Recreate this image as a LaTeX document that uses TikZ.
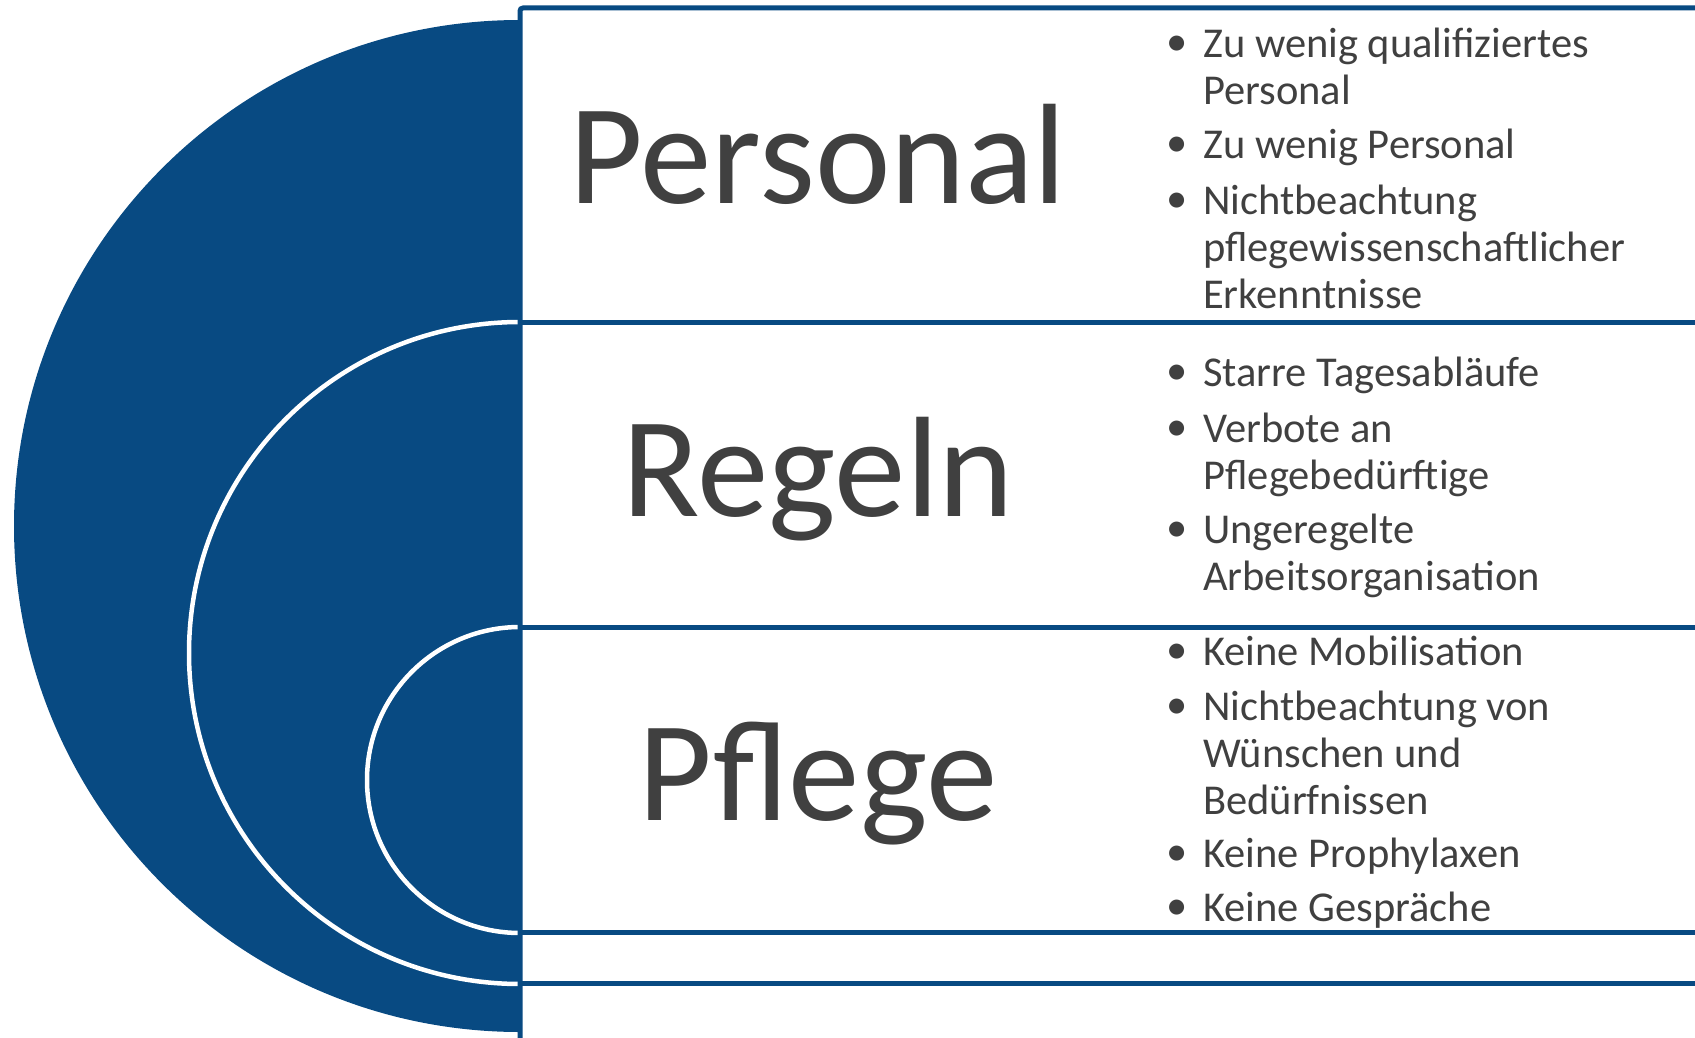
\documentclass[tikz,border=0pt]{standalone}
\usepackage{fontspec}
\setmainfont{Carlito}
\definecolor{bblue}{RGB}{8,74,130}
\definecolor{tgray}{RGB}{64,64,64}
\tikzset{
  frame/.style={draw=bblue, line width=5pt},
  ring/.style={draw=white, line width=4.5pt},
  bigword/.style={anchor=base, inner sep=0pt, text=tgray, font={\fontsize{143}{150}\selectfont}},
  itemtext/.style={anchor=base west, inner sep=0pt, text=tgray, align=left, font={\fontsize{42.5}{47}\selectfont}, xshift=2pt, yshift=-2pt},
  bul/.style={anchor=base, inner sep=0pt, text=tgray, font={\fontsize{42.5}{47}\selectfont}, xshift=1pt}
}
\begin{document}
\begin{tikzpicture}[x=1pt,y=1pt]
\useasboundingbox (0,0) rectangle (1695,-1038);
\clip (0,0) rectangle (1695,-1038);
% half disks
\fill[bblue] (520,-20) arc[start angle=90, end angle=270, radius=506pt] -- cycle;
\fill[bblue] (520,-322) arc[start angle=90, end angle=270, radius=331pt] -- cycle;
\draw[ring] (520,-322) arc[start angle=90, end angle=270, radius=331pt];
\fill[bblue] (520,-627) arc[start angle=90, end angle=270, radius=153pt] -- cycle;
\draw[ring] (520,-627) arc[start angle=90, end angle=270, radius=153pt];
% frames
\coordinate (tl) at (520,-8);
\coordinate (tr) at (1705,-8);
\coordinate (bl) at (520,-1045);
\draw[frame, rounded corners=3pt] (tr) -- (tl) -- (bl);
\coordinate (a1) at (520,-322);  \coordinate (a2) at (1705,-322);
\coordinate (b1) at (520,-627);  \coordinate (b2) at (1705,-627);
\coordinate (c1) at (520,-932);  \coordinate (c2) at (1705,-932);
\coordinate (d1) at (520,-983);  \coordinate (d2) at (1705,-983);
\draw[frame] (a1) -- (a2);
\draw[frame] (b1) -- (b2);
\draw[frame] (c1) -- (c2);
\draw[frame] (d1) -- (d2);
% headings
\node[bigword] (personal) at (818,-203) {Personal};
\node[bigword] (regeln) at (818,-516) {Regeln};
\node[bigword] (pflege) at (818,-820) {Pflege};
% Personal items (multi-line nodes are anchored at the baseline of their last line)
\node[bul] (b11) at (1176,-56) {•};
\node[itemtext] (t11) at (1201,-103) {Zu wenig qualifiziertes\\Personal};
\node[bul] (b12) at (1176,-157) {•};
\node[itemtext] (t12) at (1201,-157) {Zu wenig Personal};
\node[bul] (b13) at (1176,-212) {•};
\node[itemtext] (t13) at (1201,-306) {Nichtbeachtung\\pflegewissenschaftlicher\\Erkenntnisse};
% Regeln items
\node[bul] (b21) at (1176,-384) {•};
\node[itemtext] (t21) at (1201,-384) {Starre Tagesabläufe};
\node[bul] (b22) at (1176,-440) {•};
\node[itemtext] (t22) at (1201,-487) {Verbote an\\Pflegebedürftige};
\node[bul] (b23) at (1176,-541) {•};
\node[itemtext] (t23) at (1201,-588) {Ungeregelte\\Arbeitsorganisation};
% Pflege items
\node[bul] (b31) at (1176,-663) {•};
\node[itemtext] (t31) at (1201,-663) {Keine Mobilisation};
\node[bul] (b32) at (1176,-718) {•};
\node[itemtext] (t32) at (1201,-812) {Nichtbeachtung von\\Wünschen und\\Bedürfnissen};
\node[bul] (b33) at (1176,-865) {•};
\node[itemtext] (t33) at (1201,-865) {Keine Prophylaxen};
\node[bul] (b34) at (1176,-919) {•};
\node[itemtext] (t34) at (1201,-919) {Keine Gespräche};
\end{tikzpicture}
\end{document}
